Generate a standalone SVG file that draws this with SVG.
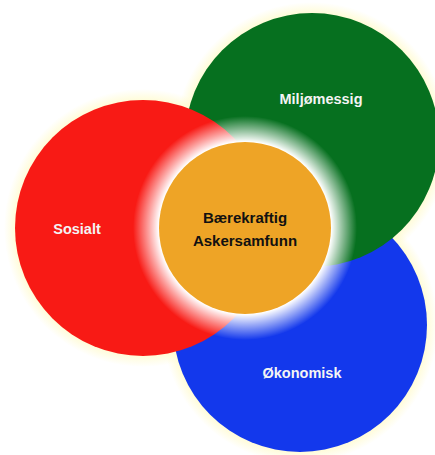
<svg xmlns="http://www.w3.org/2000/svg" width="435" height="455" viewBox="0 0 435 455">
<defs>
<radialGradient id="cream" r="0.5" cx="0.5" cy="0.5">
<stop offset="0.9" stop-color="#fffbd0" stop-opacity="1"/>
<stop offset="1" stop-color="#fffbd0" stop-opacity="0"/>
</radialGradient>
<radialGradient id="glow" r="0.5" cx="0.5" cy="0.5">
<stop offset="0.77" stop-color="#ffffff" stop-opacity="1"/>
<stop offset="0.86" stop-color="#ffffff" stop-opacity="0.6"/>
<stop offset="1" stop-color="#ffffff" stop-opacity="0"/>
</radialGradient>
</defs>
<style>
.lbl{font-family:"Liberation Sans",Arial,sans-serif;font-weight:bold;font-size:14.5px;fill:#f4f4f4;text-anchor:middle}
.ctr{font-family:"Liberation Sans",Arial,sans-serif;font-weight:bold;font-size:15px;fill:#111111;text-anchor:middle}
</style>
<rect width="435" height="455" fill="#ffffff"/>
<g id="halos">
<circle cx="300" cy="325" r="138" fill="url(#cream)"/>
<circle cx="312" cy="140" r="138" fill="url(#cream)"/>
<circle cx="143" cy="228" r="139" fill="url(#cream)"/>
</g>
<g id="okonomisk">
<circle cx="300" cy="325" r="127" fill="#1338ec"/>
<text class="lbl" x="302" y="378">Økonomisk</text>
</g>
<g id="miljomessig">
<circle cx="312" cy="140" r="127" fill="#06701f"/>
<text class="lbl" x="321" y="104">Miljømessig</text>
</g>
<g id="sosialt">
<circle cx="143" cy="228" r="128" fill="#f81a15"/>
<text class="lbl" x="77" y="234">Sosialt</text>
</g>
<g id="connectors"></g>
<g id="baerekraftig">
<circle cx="245" cy="228" r="112" fill="url(#glow)"/>
<circle cx="245" cy="228" r="86" fill="#eea426"/>
<text class="ctr" x="245" y="223">Bærekraftig</text>
<text class="ctr" x="245" y="246">Askersamfunn</text>
</g>
</svg>
